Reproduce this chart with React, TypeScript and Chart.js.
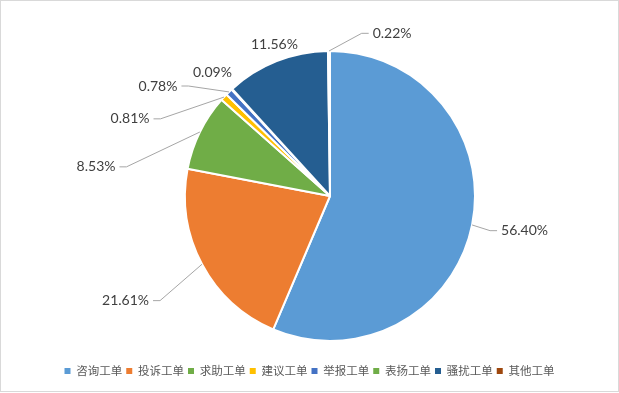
import React, { useEffect, useRef } from "react";
import { Chart, registerables } from "chart.js";

Chart.register(...registerables);

const categories = ["咨询工单", "投诉工单", "求助工单", "建议工单", "举报工单", "表扬工单", "骚扰工单", "其他工单"];
const shares = [56.40, 21.61, 8.53, 0.81, 0.78, 0.09, 11.56, 0.22];
const sliceColors = ["#5B9BD5", "#ED7D31", "#70AD47", "#FFC000", "#4472C4", "#70AD47", "#255E91", "#9E480E"];

// label placement: angle (deg clockwise from top) and distance in units of pie radius
const labelAngles = [100.1, 242.9, 277.1, 291.1, 302.6, 316.5, 339.8, 20.9];
const labelRadii = [1.363, 1.584, 1.626, 1.478, 1.408, 1.178, 1.11, 1.201];

const LABEL_FONT = "14px Lato, 'Open Sans', sans-serif";

const framePlugin = {
  id: "frame",
  beforeDraw(chart: any) {
    const { ctx, width, height } = chart;
    ctx.save();
    ctx.fillStyle = "#ffffff";
    ctx.fillRect(0, 0, width, height);
    ctx.strokeStyle = "#d9d9d9";
    ctx.lineWidth = 1;
    ctx.strokeRect(0.5, 0.5, width - 1, height - 2);
    ctx.restore();
  },
};

const shiftPlugin = {
  id: "shiftArea",
  afterLayout(chart: any) {
    const a = chart.chartArea;
    a.left += 20.5;
    a.right += 20.5;
  },
};

const labelPlugin = {
  id: "pieLabels",
  afterDatasetsDraw(chart: any) {
    const ctx = chart.ctx;
    const meta = chart.getDatasetMeta(0);
    ctx.save();
    ctx.font = LABEL_FONT;
    ctx.textAlign = "center";
    ctx.textBaseline = "middle";
    meta.data.forEach((arc: any, i: number) => {
      const { x, y, outerRadius, startAngle, endAngle } = arc.getProps(
        ["x", "y", "outerRadius", "startAngle", "endAngle"],
        true
      );
      const mid = (startAngle + endAngle) / 2;
      const px = x + Math.cos(mid) * outerRadius;
      const py = y + Math.sin(mid) * outerRadius;
      const a = ((labelAngles[i] - 90) * Math.PI) / 180;
      const tx = x + Math.cos(a) * outerRadius * labelRadii[i];
      const ty = y + Math.sin(a) * outerRadius * labelRadii[i];
      const text = shares[i].toFixed(2) + "%";
      const w = ctx.measureText(text).width;
      const left = tx - w / 2;
      const right = tx + w / 2;
      const top = ty - 7;
      const bottom = ty + 7;
      const ddx = Math.max(left - px, 0, px - right);
      const ddy = Math.max(top - py, 0, py - bottom);
      if (Math.hypot(ddx, ddy) > 14) {
        ctx.strokeStyle = "#a6a6a6";
        ctx.lineWidth = 1;
        ctx.beginPath();
        if (px > right + 2) {
          ctx.moveTo(right + 4, ty);
          ctx.lineTo(right + 11, ty);
          ctx.lineTo(px, py);
        } else if (px < left - 2) {
          ctx.moveTo(left - 4, ty);
          ctx.lineTo(left - 11, ty);
          ctx.lineTo(px, py);
        } else if (py > ty) {
          ctx.moveTo(tx, bottom + 3);
          ctx.lineTo(px, py);
        } else {
          ctx.moveTo(tx, top - 3);
          ctx.lineTo(px, py);
        }
        ctx.stroke();
      }
      ctx.fillStyle = "#404040";
      ctx.fillText(text, tx, ty);
    });
    ctx.restore();
  },
};

export default function App() {
  const ref = useRef<HTMLCanvasElement | null>(null);
  useEffect(() => {
    if (!ref.current) return;
    const baseGen = (Chart as any).overrides.pie.plugins.legend.labels.generateLabels;
    const chart = new Chart(ref.current, {
      type: "pie",
      data: {
        labels: categories,
        datasets: [
          {
            data: shares,
            backgroundColor: sliceColors,
            borderColor: "#ffffff",
            borderWidth: 2,
            radius: 145,
          } as any,
        ],
      },
      options: {
        animation: false,
        responsive: false,
        devicePixelRatio: 1,
        layout: { padding: { top: 30.75, bottom: 6.25, left: 0, right: 0 } },
        plugins: {
          tooltip: { enabled: false },
          legend: {
            position: "bottom",
            labels: {
              boxWidth: 6,
              boxHeight: 6,
              padding: 4,
              color: "#595959",
              font: { family: "'Noto Sans CJK SC', sans-serif", size: 11.5 },
              generateLabels: (c: any) =>
                baseGen(c).map((it: any) => ({ ...it, lineWidth: 0, strokeStyle: "rgba(0,0,0,0)" })),
            },
          },
        },
      } as any,
      plugins: [framePlugin, shiftPlugin, labelPlugin],
    });
    return () => chart.destroy();
  }, []);
  return (
    <div style={{ position: "absolute", left: 0, top: 0, width: 619, height: 393 }}>
      <canvas ref={ref} width={619} height={393} style={{ display: "block" }} />
    </div>
  );
}
